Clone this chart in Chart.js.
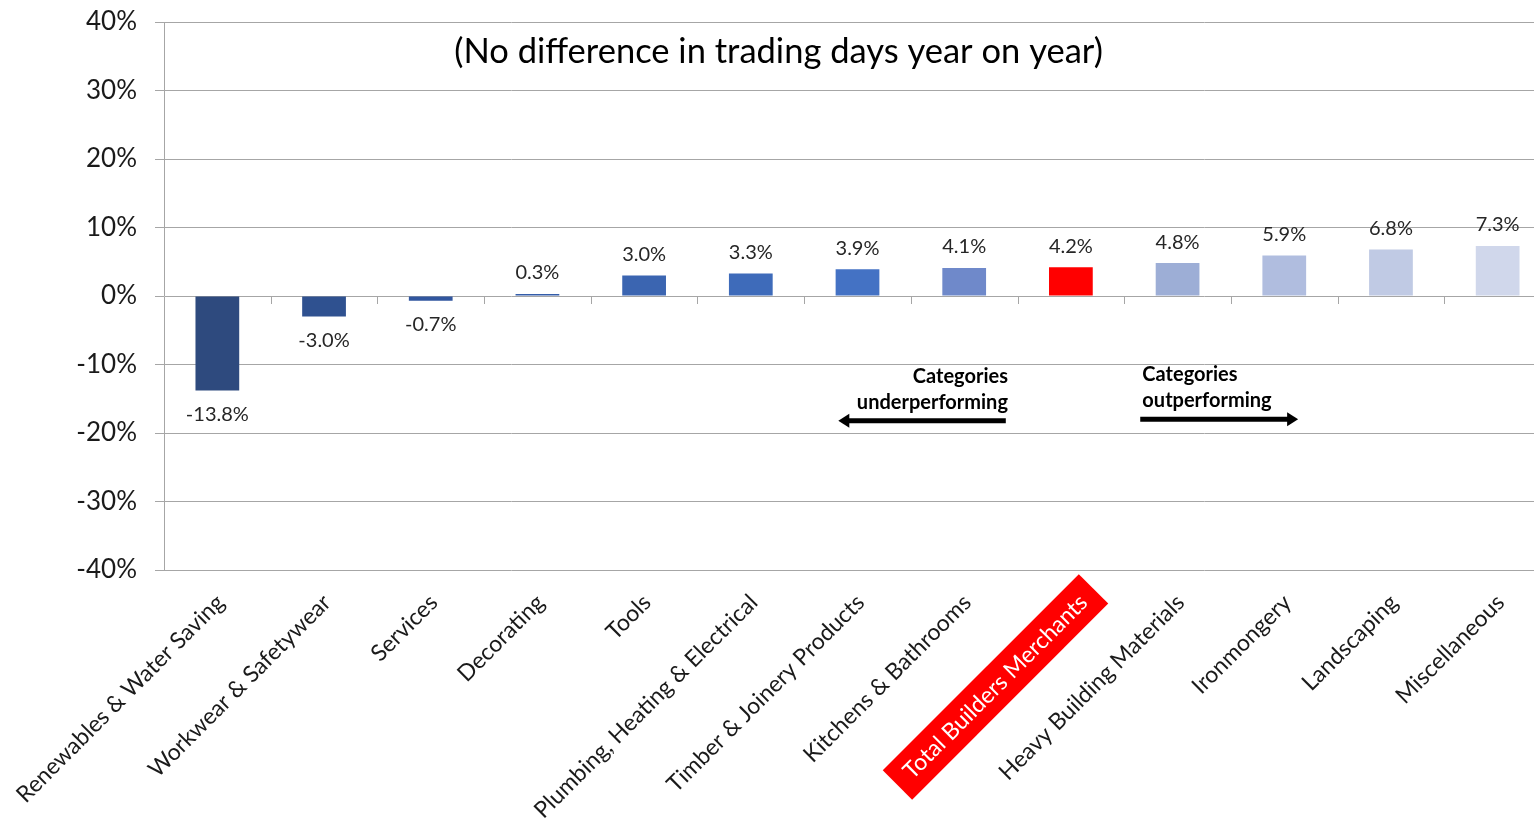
<!DOCTYPE html>
<html>
<head>
<meta charset="utf-8">
<script src="https://cdn.jsdelivr.net/npm/chart.js@4.4.1/dist/chart.umd.min.js"></script>
<style>
  html, body { margin: 0; padding: 0; background: #fff; overflow: hidden; }
  canvas { display: block; }
</style>
</head>
<body>
<!-- the plot area runs a little past the right edge of the window, as in the original -->
<canvas id="grafico-categorias" width="1552" height="821"></canvas>
<script>
const categories = [
    'Renewables & Water Saving', 'Workwear & Safetywear', 'Services', 'Decorating', 'Tools',
    'Plumbing, Heating & Electrical', 'Timber & Joinery Products', 'Kitchens & Bathrooms',
    'Total Builders Merchants', 'Heavy Building Materials', 'Ironmongery', 'Landscaping', 'Miscellaneous'
];
const changes = [-13.8, -3.0, -0.7, 0.3, 3.0, 3.3, 3.9, 4.1, 4.2, 4.8, 5.9, 6.8, 7.3];
const barColours = [
    '#2E4A7E', '#2F5190', '#31569F', '#345DA9', '#3B65B1', '#3E6BBA', '#4472C4',
    '#6F89CA', '#FF0000', '#9DAED6', '#B0BDDF', '#C0CAE4', '#D0D7EB'
];
const yTicks = [-40, -30, -20, -10, 0, 10, 20, 30, 40];
const titleText = '(No difference in trading days year on year)';
const totalIndex = 8;

const fontFamily = 'Lato, "Open Sans", sans-serif';
const gridGrey = '#A6A6A6';

// labels above / below each bar
const valueLabels = {
    id: 'valueLabels',
    afterDatasetsDraw(chart) {
        const ctx = chart.ctx;
        const meta = chart.getDatasetMeta(0);
        ctx.save();
        ctx.font = '20px ' + fontFamily;
        ctx.fillStyle = '#262626';
        ctx.textAlign = 'center';
        ctx.textBaseline = 'middle';
        meta.data.forEach((bar, i) => {
            const v = changes[i];
            const txt = v.toFixed(1) + '%';
            if (v >= 0) ctx.fillText(txt, bar.x, bar.y - 21);
            else ctx.fillText(txt, bar.x, bar.y + 24);
        });
        ctx.restore();
    }
};

// title, small ticks on the zero line, arrows
const extras = {
    id: 'extras',
    afterDraw(chart) {
        const ctx = chart.ctx;
        const xs = chart.scales.x;
        const ys = chart.scales.y;
        const y0 = ys.getPixelForValue(0);
        ctx.save();

        ctx.strokeStyle = gridGrey;
        ctx.lineWidth = 1;
        for (let i = 0; i < categories.length - 1; i++) {
            const x = Math.round((xs.getPixelForValue(i) + xs.getPixelForValue(i + 1)) / 2) + 0.5;
            ctx.beginPath();
            ctx.moveTo(x, y0);
            ctx.lineTo(x, y0 + 8);
            ctx.stroke();
        }

        ctx.fillStyle = '#000';
        ctx.font = '34.5px ' + fontFamily;
        ctx.textAlign = 'center';
        ctx.textBaseline = 'middle';
        ctx.fillText(titleText, xs.getPixelForValue(5.26), ys.getPixelForValue(35.6));

        ctx.font = 'bold 20px ' + fontFamily;
        ctx.textAlign = 'right';
        const ux = xs.getPixelForValue(7.41);
        ctx.fillText('Categories', ux, ys.getPixelForValue(-11.8));
        ctx.fillText('underperforming', ux, ys.getPixelForValue(-15.5));
        ctx.textAlign = 'left';
        const ox = xs.getPixelForValue(8.67);
        ctx.fillText('Categories', ox, ys.getPixelForValue(-11.5));
        ctx.fillText('outperforming', ox, ys.getPixelForValue(-15.2));

        function arrow(x1, x2, y) {
            const dir = Math.sign(x2 - x1);
            ctx.strokeStyle = '#000';
            ctx.lineWidth = 5;
            ctx.beginPath();
            ctx.moveTo(x1, y);
            ctx.lineTo(x2 - dir * 8, y);
            ctx.stroke();
            ctx.beginPath();
            ctx.moveTo(x2, y);
            ctx.lineTo(x2 - dir * 11, y - 7);
            ctx.lineTo(x2 - dir * 11, y + 7);
            ctx.closePath();
            ctx.fill();
        }
        arrow(xs.getPixelForValue(7.39), xs.getPixelForValue(5.82), ys.getPixelForValue(-18.2));
        arrow(xs.getPixelForValue(8.65), xs.getPixelForValue(10.13), ys.getPixelForValue(-18.0));

        ctx.restore();
    }
};

const ctx = document.getElementById('grafico-categorias').getContext('2d');
new Chart(ctx, {
    type: 'bar',
    data: {
        labels: categories,
        datasets: [{
            data: changes,
            backgroundColor: barColours,
            barPercentage: 0.41,
            categoryPercentage: 1
        }]
    },
    options: {
        responsive: false,
        animation: false,
        layout: { padding: { top: 22, right: 1, left: 0, bottom: 0 } },
        plugins: {
            legend: { display: false },
            tooltip: { enabled: false }
        },
        scales: {
            x: {
                grid: { display: false },
                border: { display: false },
                ticks: {
                    autoSkip: false,
                    maxRotation: 45,
                    minRotation: 45,
                    padding: 11,
                    labelOffset: 3,
                    color: c => c.index === totalIndex ? '#fff' : '#1a1a1a',
                    font: { family: fontFamily, size: 23 },
                    showLabelBackdrop: c => c.index === totalIndex,
                    backdropColor: c => c.index === totalIndex ? '#FF0000' : 'rgba(0,0,0,0)',
                    backdropPadding: { top: 7, bottom: 7, left: 14, right: 14 }
                },
                afterFit: s => {
                    s.height = 251;
                    s.paddingLeft = 0;
                    s.paddingRight = 0;
                    s.paddingTop = 0;
                    s.paddingBottom = 0;
                }
            },
            y: {
                min: -40,
                max: 40,
                grid: { color: gridGrey, lineWidth: 1, tickLength: 9 },
                border: { color: gridGrey },
                ticks: {
                    padding: 18,
                    color: '#1a1a1a',
                    font: { family: fontFamily, size: 26 },
                    callback: v => v + '%'
                },
                afterBuildTicks: s => { s.ticks = yTicks.map(v => ({ value: v })); },
                afterFit: s => {
                    s.width = 164;
                    s.paddingTop = 0;
                    s.paddingBottom = 0;
                }
            }
        }
    },
    plugins: [valueLabels, extras]
});
</script>
</body>
</html>
